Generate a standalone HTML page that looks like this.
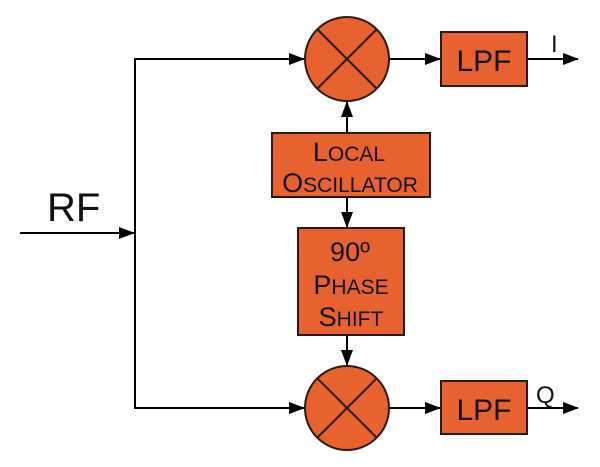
<!DOCTYPE html>
<html><head><meta charset="utf-8"><style>
html,body{margin:0;padding:0;background:#fff;}
svg{display:block;}
text{font-family:"Liberation Sans",sans-serif;fill:#111;}
</style></head><body>
<svg width="600" height="467" viewBox="0 0 600 467" xmlns="http://www.w3.org/2000/svg">
<defs>
<marker id="a" markerWidth="16" markerHeight="12" refX="15" refY="6" orient="auto" markerUnits="userSpaceOnUse">
<path d="M0,0 L16,6 L0,12 Z" fill="#000"/>
</marker>
</defs>
<g stroke="#000" stroke-width="2" fill="none">
<line x1="20" y1="233" x2="134" y2="233" marker-end="url(#a)"/>
<polyline points="290,59 135,59 135,408 290,408"/>
<line x1="280" y1="59" x2="304" y2="59" marker-end="url(#a)"/>
<line x1="280" y1="408" x2="304" y2="408" marker-end="url(#a)"/>
<line x1="389" y1="59" x2="440" y2="59" marker-end="url(#a)"/>
<line x1="389" y1="408" x2="440" y2="408" marker-end="url(#a)"/>
<line x1="527" y1="59" x2="578" y2="59" marker-end="url(#a)"/>
<line x1="527" y1="408" x2="578" y2="408" marker-end="url(#a)"/>
<line x1="347" y1="133" x2="347" y2="102" marker-end="url(#a)"/>
<line x1="347" y1="197" x2="347" y2="227" marker-end="url(#a)"/>
<line x1="347" y1="335" x2="347" y2="365" marker-end="url(#a)"/>
</g>
<g fill="#E8622F" stroke="#2a1a12" stroke-width="2">
<circle cx="347" cy="59" r="42"/>
<circle cx="347" cy="408" r="42"/>
<rect x="441" y="32" width="86" height="54"/>
<rect x="441" y="381" width="86" height="53"/>
<rect x="272" y="133" width="158" height="64"/>
<rect x="298" y="228" width="106" height="107"/>
</g>
<g stroke="#2a1a12" stroke-width="2">
<line x1="317" y1="29" x2="377" y2="89"/><line x1="377" y1="29" x2="317" y2="89"/>
<line x1="317" y1="378" x2="377" y2="438"/><line x1="377" y1="378" x2="317" y2="438"/>
</g>
<text x="484" y="71" font-size="30" text-anchor="middle">LPF</text>
<text x="484" y="420" font-size="30" text-anchor="middle">LPF</text>
<text x="551" y="52" font-size="24">I</text>
<text x="536" y="403" font-size="24">Q</text>
<text x="47" y="221" font-size="40">RF</text>
<text x="349" y="161" font-size="27" text-anchor="middle">L<tspan font-size="21">OCAL</tspan></text>
<text x="350" y="192" font-size="27" text-anchor="middle">O<tspan font-size="21">SCILLATOR</tspan></text>
<text x="350" y="261" font-size="27" text-anchor="middle">90º</text>
<text x="351" y="294" font-size="27" text-anchor="middle">P<tspan font-size="21">HASE</tspan></text>
<text x="351" y="326" font-size="27" text-anchor="middle">S<tspan font-size="21">HIFT</tspan></text>
</svg>
</body></html>
